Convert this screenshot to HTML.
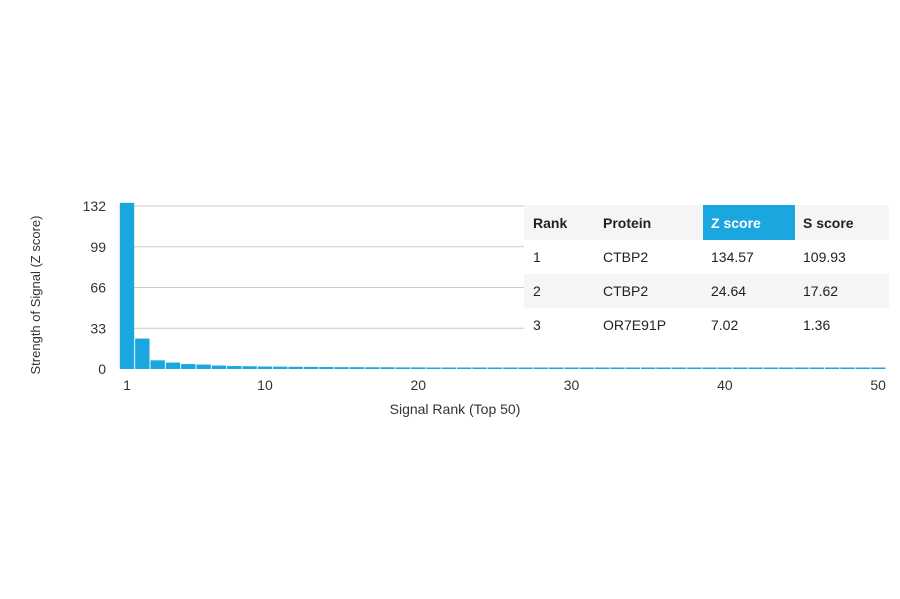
<!DOCTYPE html>
<html><head><meta charset="utf-8"><style>
body{margin:0;background:#fff;width:900px;height:594px;overflow:hidden;font-family:"Liberation Sans",Arial,sans-serif}
</style></head><body>
<svg id="chart" width="900" height="594" xmlns="http://www.w3.org/2000/svg" font-family="Liberation Sans, Arial, sans-serif"></svg>
<script>
const ranks = Array.from({length:50},(_,i)=>i+1);
const zValues = [134.57,24.64,7.02,5.2,4.0,3.6,2.8,2.4,2.2,2.0,1.9,1.8,1.7,1.6,1.5,1.5,1.4,1.4,1.3,1.3,1.2,1.2,1.2,1.1,1.1,1.1,1.0,1.0,1.0,1.0,0.9,0.9,0.9,0.9,0.9,0.8,0.8,0.8,0.8,0.8,0.8,0.7,0.7,0.7,0.7,0.7,0.7,0.7,0.6,0.6];
const yTicks = [0,33,66,99,132];
const xTicks = [1,10,20,30,40,50];
const tableHeader = ["Rank","Protein","Z score","S score"];
const tableRows = [["1","CTBP2","134.57","109.93"],["2","CTBP2","24.64","17.62"],["3","OR7E91P","7.02","1.36"]];

const svg=document.getElementById('chart');
const NS='http://www.w3.org/2000/svg';
const y=v=>369-v*(163/132);
const x=r=>127+(r-1)*15.33;
function mk(t,a,txt){const e=document.createElementNS(NS,t);for(const k in a)e.setAttribute(k,a[k]);if(txt!==undefined)e.textContent=txt;svg.appendChild(e);return e;}

yTicks.forEach(t=>{
  if(t>0){const g=mk('line',{x1:120,x2:524,y1:y(t),y2:y(t),stroke:'#ccc','stroke-width':1});
  
  }
  const l=mk('text',{x:106,y:y(t)+5,'text-anchor':'end','font-size':14,fill:'#333'},t);
  
  
});
zValues.forEach((v,i)=>{
  const h=Math.max(369-y(v),1.5);
  const b=mk('rect',{x:x(ranks[i])-7.2,y:369-h,width:14.4,height:h,fill:'#1aa7df'});
  
  
});
xTicks.forEach(t=>{
  const l=mk('text',{x:x(t),y:390,'text-anchor':'middle','font-size':14,fill:'#333'},t);
  
  
});
const xt=mk('text',{x:455,y:414,'text-anchor':'middle','font-size':14,fill:'#333'},'Signal Rank (Top 50)');


const yt=mk('text',{x:0,y:0,'text-anchor':'middle','font-size':13,fill:'#333',transform:'translate(40,295) rotate(-90)'},'Strength of Signal (Z score)');



// table
const colX=[533,603,711,803];
const rowTop=[205,240,274,308], rowH=[35,34,34,34];
[0,2].forEach(i=>{const r=mk('rect',{x:524,y:rowTop[i],width:365,height:rowH[i],fill:'#f5f5f5'});

});
const zh=mk('rect',{x:703,y:205,width:92,height:35,fill:'#1aa7df'});


tableHeader.forEach((h,j)=>{
  const t=mk('text',{x:colX[j],y:228,'font-size':14,'font-weight':'bold',fill:j==2?'#fff':'#222'},h);
  
  
});
tableRows.forEach((row,i)=>{
  row.forEach((c,j)=>{
    const t=mk('text',{x:colX[j],y:rowTop[i+1]+22,'font-size':14,fill:'#222'},c);
    
    
  });
});
</script>
</body></html>
